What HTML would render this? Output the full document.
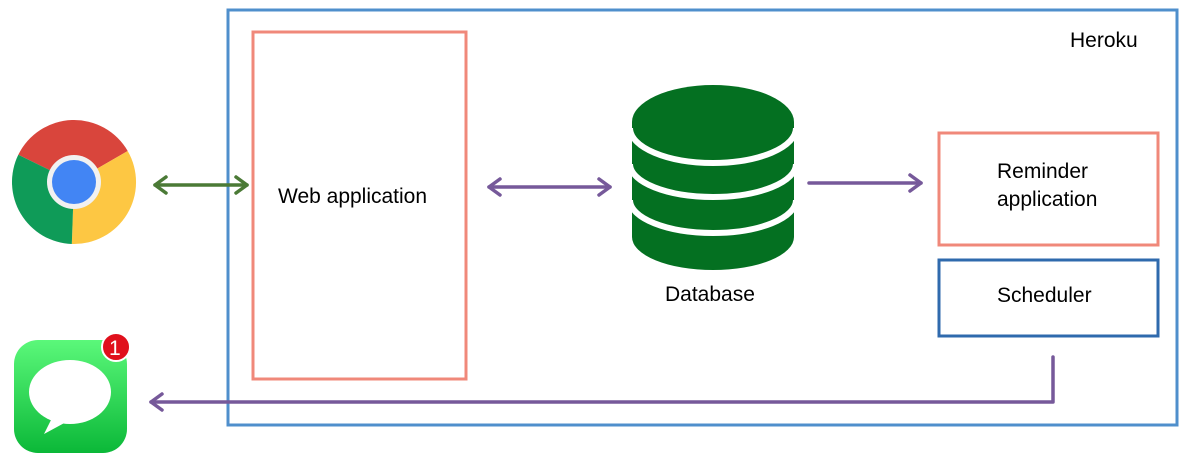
<!DOCTYPE html>
<html><head><meta charset="utf-8"><style>
html,body{margin:0;padding:0;background:#fff;width:1187px;height:460px;overflow:hidden}
text{font-family:"Liberation Sans",sans-serif;font-size:21px;fill:#000}
</style></head><body>
<svg width="1187" height="460" viewBox="0 0 1187 460" xmlns="http://www.w3.org/2000/svg">
<defs>
<linearGradient id="mg" x1="0" y1="0" x2="0" y2="1"><stop offset="0" stop-color="#5bf87a"/><stop offset="1" stop-color="#0bb838"/></linearGradient>
</defs>
<rect x="228" y="10" width="949" height="415" fill="none" stroke="#4f8fcc" stroke-width="3"/>
<text x="1070" y="47">Heroku</text>
<rect x="253" y="32" width="213" height="347" fill="none" stroke="#f0887a" stroke-width="3"/>
<text x="278" y="203">Web application</text>
<rect x="939" y="133" width="219" height="112" fill="none" stroke="#f0887a" stroke-width="3"/>
<text x="997" y="178">Reminder</text>
<text x="997" y="206">application</text>
<rect x="939" y="260" width="219" height="76" fill="none" stroke="#2f6aad" stroke-width="3"/>
<text x="997" y="302">Scheduler</text>
<!-- database -->
<path d="M632 122 L632 237 A81 33 0 0 0 794 237 L794 122 Z" fill="#047021"/>
<ellipse cx="713" cy="122" rx="81" ry="37" fill="#047021"/>
<path d="M630 128 A83 35 0 0 0 796 128" fill="none" stroke="#fff" stroke-width="6"/>
<path d="M630 164 A83 33 0 0 0 796 164" fill="none" stroke="#fff" stroke-width="6"/>
<path d="M630 200 A83 33 0 0 0 796 200" fill="none" stroke="#fff" stroke-width="6"/>
<text x="665" y="301">Database</text>
<!-- arrows -->
<g stroke="#4b7a36" stroke-width="3.5" fill="none" stroke-linecap="round" stroke-linejoin="round">
<line x1="155" y1="185" x2="247" y2="185"/><polyline points="166,177 155,185 166,193"/><polyline points="236,177 247,185 236,193"/>
</g>
<g stroke="#76599a" stroke-width="3.5" fill="none" stroke-linecap="round" stroke-linejoin="round">
<line x1="489" y1="187" x2="610" y2="187"/><polyline points="500,179 489,187 500,195"/><polyline points="599,179 610,187 599,195"/>
<line x1="809" y1="183" x2="921" y2="183"/><polyline points="910,175 921,183 910,191"/>
<polyline points="1053,357 1053,402 151,402"/><polyline points="162,394 151,402 162,410"/>
</g>
<!-- chrome -->
<g transform="translate(74,182)">
<path d="M0 0 L-55.7 -27.2 A62 62 0 0 1 53.7 -31 Z" fill="#d9453c"/>
<path d="M0 0 L53.7 -31 A62 62 0 0 1 -2.2 62 Z" fill="#fdc743"/>
<path d="M0 0 L-2.2 62 A62 62 0 0 1 -55.7 -27.2 Z" fill="#0f9b58"/>
<circle r="27" fill="#f1f1f1"/><circle r="22" fill="#4285f4"/>
</g>
<!-- messages -->
<rect x="14" y="340" width="113" height="113" rx="24" fill="url(#mg)"/>
<ellipse cx="70" cy="392" rx="41" ry="32" fill="#fff"/>
<path d="M52 418 L44 434 L68 421 Z" fill="#fff"/>
<circle cx="116" cy="347" r="14" fill="#e0101c" stroke="#fff" stroke-width="2"/>
<text x="109" y="355" style="fill:#fff;font-size:21px">1</text>
</svg>
</body></html>
